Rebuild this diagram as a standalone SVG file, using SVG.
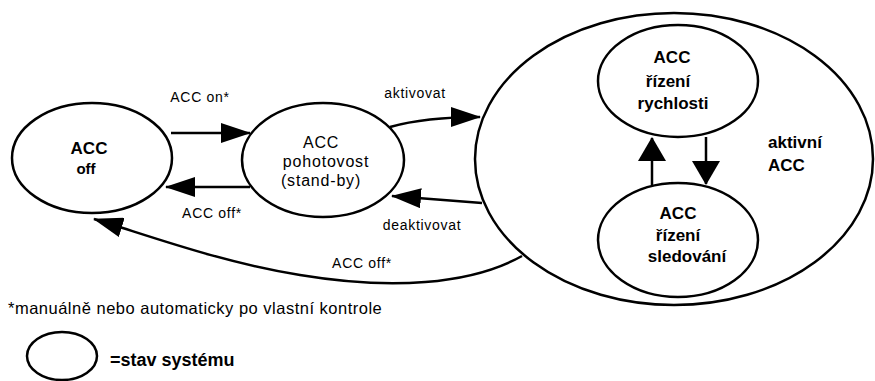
<svg xmlns="http://www.w3.org/2000/svg" width="875" height="381" viewBox="0 0 875 381">
<defs>
<style>
.st{fill:#fff;stroke:#000;stroke-width:2.5}
.c{fill:none;stroke:#000;stroke-width:2.5}
.b{font-family:"Liberation Sans",Arial,sans-serif;font-weight:bold;font-size:17px;fill:#000;text-anchor:middle}
.n{font-family:"Liberation Sans",Arial,sans-serif;font-size:16px;letter-spacing:0.8px;fill:#000;text-anchor:middle}
.l{font-family:"Liberation Sans",Arial,sans-serif;font-size:14px;letter-spacing:0.7px;fill:#000;text-anchor:middle}
</style>
<marker id="ah" markerUnits="userSpaceOnUse" markerWidth="30" markerHeight="20" refX="29" refY="10" orient="auto">
<path d="M0,0 L30,10 L0,20 z" fill="#000"/>
</marker>
<marker id="av" markerUnits="userSpaceOnUse" markerWidth="24" markerHeight="28" refX="23" refY="14" orient="auto">
<path d="M0,0 L24,14 L0,28 z" fill="#000"/>
</marker>
</defs>
<rect width="875" height="381" fill="#fff"/>
<g id="aktivni">
<ellipse class="st" cx="674" cy="159" rx="199" ry="146"/>
<text class="b" x="768" y="148" style="text-anchor:start">aktivní</text>
<text class="b" x="768" y="171" style="text-anchor:start">ACC</text>
</g>
<g id="acc-off">
<ellipse class="st" cx="92" cy="158" rx="80" ry="55"/>
<text class="b" x="89" y="154">ACC</text>
<text class="b" x="86" y="174" style="font-size:15px">off</text>
</g>
<g id="pohotovost">
<ellipse class="st" cx="323" cy="160" rx="81" ry="57"/>
<text class="n" x="321" y="148">ACC</text>
<text class="n" x="326" y="167">pohotovost</text>
<text class="n" x="321" y="186">(stand-by)</text>
</g>
<g id="rizeni-rychlosti">
<ellipse class="st" cx="678" cy="81" rx="80" ry="56"/>
<text class="b" x="672" y="63">ACC</text>
<text class="b" x="668" y="87">řízení</text>
<text class="b" x="673" y="109">rychlosti</text>
</g>
<g id="rizeni-sledovani">
<ellipse class="st" cx="678" cy="240" rx="80" ry="57"/>
<text class="b" x="678" y="219">ACC</text>
<text class="b" x="678" y="241">řízení</text>
<text class="b" x="687" y="262">sledování</text>
</g>
<g id="connectors">
<path class="c" d="M171,133 L250,133" marker-end="url(#ah)"/>
<path class="c" d="M250,187 L166,187" marker-end="url(#ah)"/>
<path class="c" d="M390,127 Q425,117 480,117" marker-end="url(#ah)"/>
<path class="c" d="M482,203 L392,196" marker-end="url(#ah)"/>
<path class="c" d="M522,256 C470,285 390,290 300,275 C220,262 150,236 94,219" marker-end="url(#ah)"/>
<path class="c" d="M652,185 L652,138" marker-end="url(#av)"/>
<path class="c" d="M706,137 L706,184" marker-end="url(#av)"/>
</g>
<g id="labels">
<text class="l" x="200" y="102">ACC on*</text>
<text class="l" x="212" y="218">ACC off*</text>
<text class="l" x="415" y="98">aktivovat</text>
<text class="l" x="422" y="230">deaktivovat</text>
<text class="l" x="362" y="268">ACC off*</text>
</g>
<text x="8" y="314" style="font-family:'Liberation Sans',Arial,sans-serif;font-size:16.5px;letter-spacing:0.5px;fill:#000">*manuálně nebo automaticky po vlastní kontrole</text>
<g id="legend">
<ellipse class="st" cx="62" cy="356" rx="35" ry="24"/>
<text class="b" x="110" y="366" style="text-anchor:start;font-size:18px">=stav systému</text>
</g>
</svg>
